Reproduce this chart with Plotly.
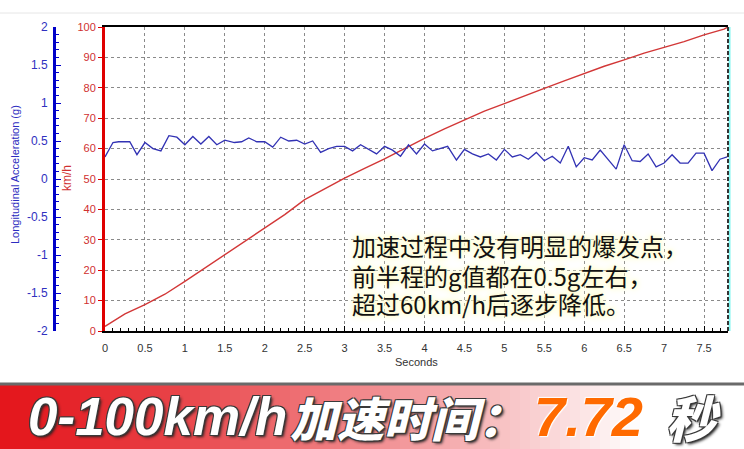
import plotly.graph_objects as go

# speed curve (km/h)
SPEED_T = [0.0, 0.25, 0.5, 0.75, 1.0, 1.25, 1.5, 1.75, 2.0, 2.25, 2.5, 2.75, 3.0, 3.25,
           3.5, 3.75, 4.0, 4.25, 4.5, 4.75, 5.0, 5.25, 5.5, 5.75, 6.0, 6.25, 6.5, 6.75,
           7.0, 7.25, 7.5, 7.75, 7.8]
SPEED_KMH = [1.5, 5.6, 8.7, 12.1, 16.3, 20.7, 25.2, 29.7, 34.1, 38.3, 43.2, 46.8, 50.3, 53.5,
             56.6, 60.0, 63.4, 66.5, 69.5, 72.3, 74.8, 77.4, 79.8, 82.3, 84.7, 87.1, 89.2, 91.4,
             93.3, 95.2, 97.4, 99.3, 100.0]

# longitudinal acceleration (g)
ACC_T = [0.0, 0.1, 0.17, 0.31, 0.4, 0.5, 0.6, 0.7, 0.8, 0.9, 1.0, 1.1, 1.2, 1.3, 1.4, 1.5,
         1.62, 1.71, 1.8, 1.9, 2.0, 2.1, 2.2, 2.3, 2.4, 2.5, 2.6, 2.7, 2.8, 2.9, 3.0, 3.1,
         3.2, 3.3, 3.4, 3.5, 3.6, 3.7, 3.8, 3.9, 4.0, 4.1, 4.2, 4.29, 4.4, 4.5, 4.6, 4.7,
         4.8, 4.9, 5.0, 5.1, 5.2, 5.3, 5.4, 5.5, 5.6, 5.7, 5.8, 5.9, 6.0, 6.1, 6.2, 6.3,
         6.4, 6.5, 6.6, 6.7, 6.8, 6.9, 7.0, 7.1, 7.2, 7.3, 7.4, 7.5, 7.6, 7.7, 7.79]
ACC_G = [0.29, 0.48, 0.49, 0.49, 0.32, 0.48, 0.40, 0.37, 0.57, 0.55, 0.45, 0.56, 0.46, 0.56, 0.45, 0.51,
         0.48, 0.49, 0.54, 0.49, 0.49, 0.42, 0.55, 0.50, 0.51, 0.46, 0.50, 0.35, 0.40, 0.43, 0.43, 0.37,
         0.45, 0.39, 0.33, 0.43, 0.38, 0.30, 0.45, 0.33, 0.46, 0.37, 0.40, 0.43, 0.25, 0.39, 0.33, 0.29,
         0.33, 0.25, 0.39, 0.29, 0.32, 0.26, 0.35, 0.24, 0.30, 0.21, 0.43, 0.16, 0.28, 0.25, 0.38, 0.26,
         0.13, 0.45, 0.24, 0.23, 0.33, 0.16, 0.21, 0.32, 0.21, 0.21, 0.34, 0.34, 0.11, 0.26, 0.29]

X_TICKS = [0, 0.5, 1, 1.5, 2, 2.5, 3, 3.5, 4, 4.5, 5, 5.5, 6, 6.5, 7, 7.5]
X_LABELS = ["0", "0.5", "1", "1.5", "2", "2.5", "3", "3.5", "4", "4.5", "5", "5.5", "6", "6.5", "7", "7.5"]
KMH_TICKS = [0, 10, 20, 30, 40, 50, 60, 70, 80, 90, 100]
G_TICKS = [-2, -1.5, -1, -0.5, 0, 0.5, 1, 1.5, 2]
G_LABELS = ["-2", "-1.5", "-1", "-0.5", "0", "0.5", "1", "1.5", "2"]

NOTE_LINES = ["加速过程中没有明显的爆发点，", "前半程的g值都在0.5g左右，", "超过60km/h后逐步降低。"]
BANNER_PARTS = ["0-100km/h", "加速时间：", "7.72", "秒"]

W, H = 744, 449
ML, MR, MT, MB = 0, 16, 27, 118
PW, PH = W - ML - MR, H - MT - MB


def px(x):
    return (x - ML) / PW


def py(y):
    return (H - MB - y) / PH


fig = go.Figure()
fig.add_trace(go.Scatter(x=SPEED_T, y=SPEED_KMH, mode="lines", yaxis="y",
                         line=dict(color="rgb(210,55,55)", width=1.4), showlegend=False))
fig.add_trace(go.Scatter(x=ACC_T, y=ACC_G, mode="lines", yaxis="y2",
                         line=dict(color="rgb(50,50,180)", width=1.3), showlegend=False))

tick_font = dict(family="Liberation Sans, Arial", size=11)
grid = dict(showgrid=True, gridcolor="#8a8a8a", gridwidth=1, griddash="3px,3px")

fig.update_layout(
    width=W, height=H, autosize=False,
    margin=dict(l=ML, r=MR, t=MT, b=MB, autoexpand=False),
    paper_bgcolor="white", plot_bgcolor="white",
    xaxis=dict(domain=[px(105), 1], range=[0, 7.8], tickvals=X_TICKS, ticktext=X_LABELS,
               ticks="inside", ticklen=5, tickcolor="black", showline=True, linecolor="black",
               linewidth=2, mirror=True, zeroline=False, ticklabelstandoff=6,
               tickfont=dict(color="#333", **tick_font),
               minor=dict(dtick=0.1, ticks="inside", ticklen=3, tickcolor="black", showgrid=False),
               **grid),
    yaxis=dict(range=[0, 100], tickvals=KMH_TICKS, ticks="outside", ticklen=4, tickcolor="#e00000",
               showline=True, linecolor="#e00000", linewidth=3, zeroline=False,
               tickfont=dict(color="#d03030", **tick_font), **grid),
    yaxis2=dict(range=[-2, 2], tickvals=G_TICKS, ticktext=G_LABELS, overlaying="y", anchor="free",
                position=px(54), side="left", ticks="inside", ticklen=5, tickcolor="#0000c8",
                showline=True, linecolor="#0000c8", linewidth=3, showgrid=False, zeroline=False,
                ticklabelstandoff=3, tickfont=dict(color="#3030c0", family="Liberation Sans, Arial", size=12),
                minor=dict(dtick=0.1, ticks="inside", ticklen=3, tickcolor="#0000c8")),
)

shapes = []
# faint line at the very top
shapes.append(dict(type="line", xref="paper", yref="paper", x0=0, x1=px(W), y0=py(13), y1=py(13),
                   line=dict(color="#e6e6e6", width=1)))
# right border of the plot
shapes.append(dict(type="line", xref="paper", yref="paper", x0=1 + 1.5 / PW, x1=1 + 1.5 / PW, y0=0, y1=1,
                   line=dict(color="#7ff5f0", width=2)))
shapes.append(dict(type="line", xref="paper", yref="paper", x0=1, x1=1, y0=0, y1=1,
                   line=dict(color="#333", width=2, dash="4px,2px")))

# red-to-white banner at the bottom
steps = 64
for i in range(steps):
    x0 = i * 10
    f = min(1.0, (x0 + 5) / 640) ** 1.25
    r = int(228 + (255 - 228) * f)
    g = int(22 + (255 - 22) * f)
    b = int(28 + (255 - 28) * f)
    shapes.append(dict(type="rect", xref="paper", yref="paper", x0=px(x0), x1=px(x0 + 11),
                       y0=py(H), y1=py(385), fillcolor=f"rgb({r},{g},{b})", line=dict(width=0)))
shapes.append(dict(type="rect", xref="paper", yref="paper", x0=px(640), x1=px(W),
                   y0=py(H), y1=py(385), fillcolor="white", line=dict(width=0)))
shapes.append(dict(type="line", xref="paper", yref="paper", x0=0, x1=px(W), y0=py(384), y1=py(384),
                   line=dict(color="#6a6a6a", width=3)))
fig.update_layout(shapes=shapes)

ann = []
ann.append(dict(text="Longitudinal Acceleration (g)", xref="paper", yref="paper", x=px(15), y=py(175),
                xanchor="center", yanchor="middle", textangle=-90, showarrow=False,
                font=dict(color="#2c2cc0", **tick_font)))
ann.append(dict(text="km/h", xref="paper", yref="paper", x=px(67), y=py(178),
                xanchor="center", yanchor="middle", textangle=-90, showarrow=False,
                font=dict(color="#d03030", family="Liberation Sans, Arial", size=12)))
ann.append(dict(text="Seconds", xref="paper", yref="paper", x=px(416), y=py(362),
                xanchor="center", yanchor="middle", showarrow=False, font=dict(color="#333", **tick_font)))

note_font = dict(family="Noto Sans CJK SC", size=24, color="#111",
                 shadow="0 0 3px #fffbc8, 0 0 6px #fffbc8, 0 0 9px #fffbc8")
for line, yy in zip(NOTE_LINES, [245, 275, 303]):
    ann.append(dict(text=line, xref="paper", yref="paper", x=px(350), y=py(yy), xanchor="left",
                    yanchor="middle", showarrow=False, font=note_font))

outline = ("-1px -1px 0 #3a3a3a, 1px -1px 0 #3a3a3a, -1px 1px 0 #3a3a3a, 1px 1px 0 #3a3a3a, "
           "2px 2px 3px #222")
banner_pos = [(26, 53, "white", "Liberation Sans"), (288, 47, "white", "Noto Sans CJK SC"),
              (532, 56, "#ff6a00", "Liberation Sans"), (664, 50, "white", "Noto Sans CJK SC")]
for text, (xx, size, color, family) in zip(BANNER_PARTS, banner_pos):
    ann.append(dict(text=text, xref="paper", yref="paper", x=px(xx), y=py(416), xanchor="left",
                    yanchor="middle", showarrow=False,
                    font=dict(family=family, size=size, color=color, weight=900, style="italic",
                              shadow=outline if color == "white" else "1px 1px 1px #fff, -1px -1px 1px #fff")))
fig.update_layout(annotations=ann)

# the page's default body margin would shift the whole chart by 8px
fig.write_html("out.html", config={"displayModeBar": False},
               post_script="document.body.style.margin = '0';")
